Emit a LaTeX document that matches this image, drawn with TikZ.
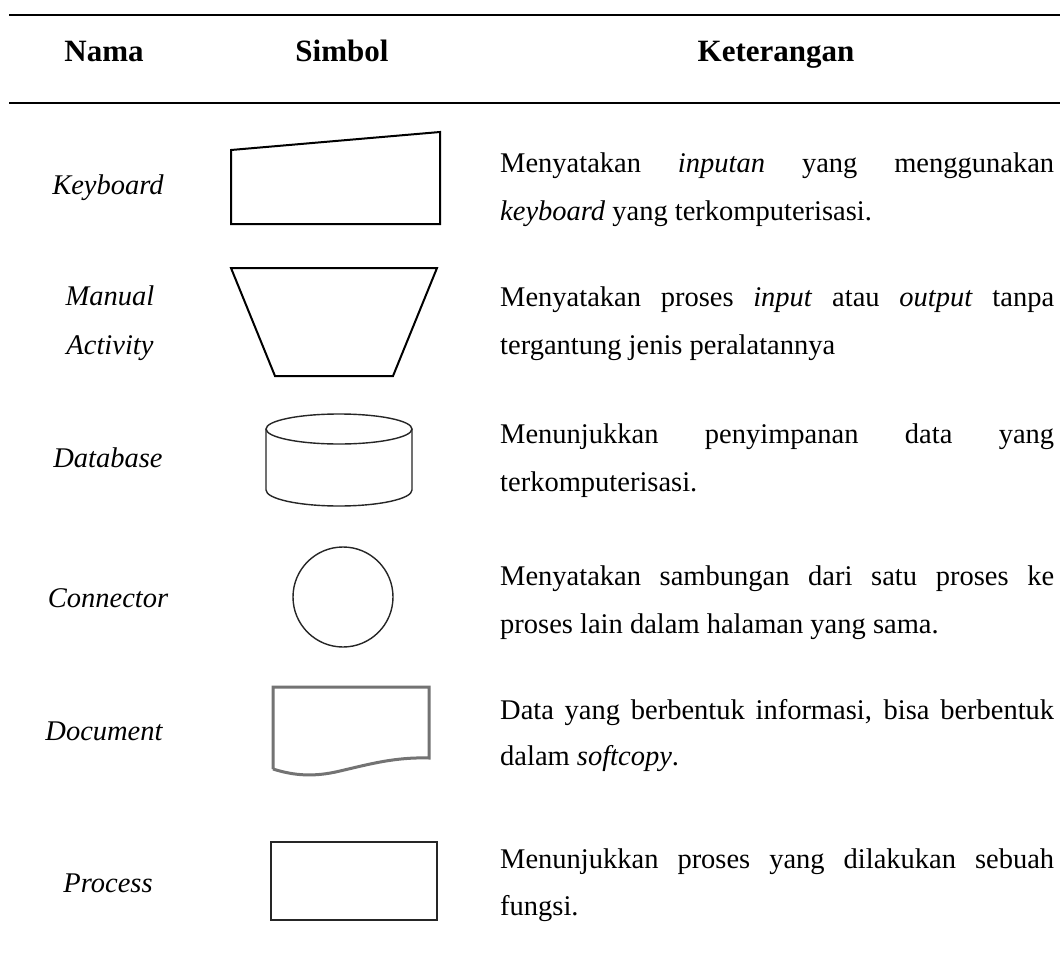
\documentclass[tikz,border=0pt]{standalone}
\usepackage{fontspec}
\setmainfont{Liberation Serif}
\begin{document}
\begin{tikzpicture}[x=1pt,y=-1pt,
  txt/.style={anchor=base west,inner sep=0pt,font=\fontsize{28.5}{34}\selectfont},
  nm/.style={anchor=base,inner sep=0pt,font=\fontsize{28.5}{34}\selectfont\itshape},
  hd/.style={anchor=base,inner sep=0pt,font=\fontsize{31}{36}\selectfont\bfseries},
  symthick/.style={draw=black,line width=2pt,line join=miter},
  symthin/.style={draw=black!85,line width=1.4pt},
  docline/.style={draw=black!55,line width=3pt,line join=miter},
  rule/.style={line width=2.2pt}]
\useasboundingbox (0,0) rectangle (1060,958);
\fill[white] (0,0) rectangle (1060,958);
% rules
\draw[rule] (9,15) -- (1060,15);
\draw[rule] (9,103) -- (1060,103);
% header
\node[hd] (hnama) at (104,62) {Nama};
\node[hd] (hsimbol) at (342,62) {Simbol};
\node[hd] (hket) at (776,62) {Keterangan};
% names
\node[nm] (nkey) at (108,194) {Keyboard};
\node[nm] (nman1) at (110,305) {Manual};
\node[nm] (nman2) at (110,354) {Activity};
\node[nm] (ndb) at (108,467) {Database};
\node[nm] (ncon) at (108,607) {Connector};
\node[nm] (ndoc) at (104,740) {Document};
\node[nm] (nproc) at (108,892) {Process};
% descriptions
\node[txt] (dk1) at (500,172) {\makebox[554pt][s]{Menyatakan \textit{inputan} yang menggunakan}};
\node[txt] (dk2) at (500,220) {\textit{keyboard} yang terkomputerisasi.};
\node[txt] (dm1) at (500,306) {\makebox[554pt][s]{Menyatakan proses \textit{input} atau \textit{output} tanpa}};
\node[txt] (dm2) at (500,354) {tergantung jenis peralatannya};
\node[txt] (dd1) at (500,443) {\makebox[554pt][s]{Menunjukkan penyimpanan data yang}};
\node[txt] (dd2) at (500,491) {terkomputerisasi.};
\node[txt] (dc1) at (500,585) {\makebox[554pt][s]{Menyatakan sambungan dari satu proses ke}};
\node[txt] (dc2) at (500,633) {proses lain dalam halaman yang sama.};
\node[txt] (do1) at (500,719) {\makebox[554pt][s]{Data yang berbentuk informasi, bisa berbentuk}};
\node[txt] (do2) at (500,765) {dalam \textit{softcopy}.};
\node[txt] (dp1) at (500,868) {\makebox[554pt][s]{Menunjukkan proses yang dilakukan sebuah}};
\node[txt] (dp2) at (500,915) {fungsi.};
% symbols
\draw[symthick] (231,150) -- (440,132) -- (440,224) -- (231,224) -- cycle;
\draw[symthick] (231,268) -- (437,268) -- (393,376) -- (275,376) -- cycle;
\draw[symthin] (266,429) -- (266,490) arc[start angle=180,end angle=0,x radius=73,y radius=16] -- (412,429);
\draw[symthin] (339,429) ellipse [x radius=73, y radius=15];
\draw[symthin] (343,597) circle[radius=50];
\draw[docline] (273,769) -- (273,687) -- (429,687) -- (429,758)
  .. controls (395,757) and (370,764) .. (340,771)
  .. controls (315,777) and (295,776) .. (273,769);
\draw[symthin] (271,842) rectangle (437,920);
\end{tikzpicture}
\end{document}
